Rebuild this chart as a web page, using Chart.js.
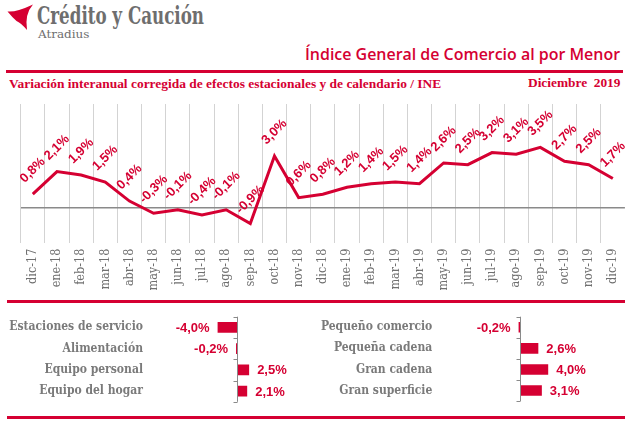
<!DOCTYPE html>
<html>
<head>
<meta charset="utf-8">
<script src="https://cdn.jsdelivr.net/npm/chart.js@4.4.1/dist/chart.umd.min.js"></script>
<style>
  body { margin: 0; width: 634px; height: 424px; background: #fff; position: relative; overflow: hidden; }
  .abs { position: absolute; white-space: nowrap; }
  .rule { position: absolute; background: #d50032; height: 3px; }
  canvas { position: absolute; }
</style>
</head>
<body>
<svg class="abs" style="left:0;top:0" width="40" height="34">
  <path d="M7.5,11.5 Q16,12.5 33,4.5 Q24.5,14 27,30 Q20.5,22.5 16.5,21 Q12,17 7.5,11.5 Z" fill="#d50032"/>
</svg>
<div class="abs" id="brand" data-w="167" style="left:37px;top:1px;font:bold 24px 'DejaVu Serif Condensed','DejaVu Serif';color:#6e6e6e">Crédito y Caución</div>
<div class="abs" id="brand2" data-w="52" style="left:38px;top:28px;font:11px 'DejaVu Serif Condensed','DejaVu Serif';color:#6e6e6e">Atradius</div>
<div class="abs" id="title" data-w="315" data-right="1" style="right:14px;top:42px;font:600 17px 'Open Sans';color:#d50032">Índice General de Comercio al por Menor</div>
<div class="rule" style="left:6px;top:69.5px;width:617px"></div>
<div class="abs" id="sub" data-w="432" style="left:9px;top:76px;font:bold 13.5px 'Liberation Serif';color:#d50032">Variación interanual corregida de efectos estacionales y de calendario / INE</div>
<div class="abs" id="date" data-w="92" data-right="1" style="right:14px;top:75px;font:bold 13.5px 'Liberation Serif';color:#d50032">Diciembre&nbsp; 2019</div>
<div class="rule" style="left:7px;top:299.5px;width:618px"></div>
<div class="rule" style="left:7px;top:415.5px;width:618px"></div>

<canvas id="line" width="634" height="205" style="left:0;top:95px"></canvas>
<canvas id="barL" width="317" height="116" style="left:0;top:300px"></canvas>
<canvas id="barR" width="317" height="116" style="left:317px;top:300px"></canvas>

<script>
const months = ['dic-17','ene-18','feb-18','mar-18','abr-18','may-18','jun-18','jul-18','ago-18','sep-18','oct-18','nov-18','dic-18',
  'ene-19','feb-19','mar-19','abr-19','may-19','jun-19','jul-19','ago-19','sep-19','oct-19','nov-19','dic-19'];
const indice = [0.8, 2.1, 1.9, 1.5, 0.4, -0.3, -0.1, -0.4, -0.1, -0.9, 3.0, 0.6, 0.8,
  1.2, 1.4, 1.5, 1.4, 2.6, 2.5, 3.2, 3.1, 3.5, 2.7, 2.5, 1.7];

const productos = ['Estaciones de servicio', 'Alimentación', 'Equipo personal', 'Equipo del hogar'];
const productosVal = [-4.0, -0.2, 2.5, 2.1];
const formatos = ['Pequeño comercio', 'Pequeña cadena', 'Gran cadena', 'Gran superficie'];
const formatosVal = [-0.2, 2.6, 4.0, 3.1];

const RED = '#d50032';
const SLAB = "'DejaVu Serif Condensed', 'DejaVu Serif', serif";
const fmt = v => v.toFixed(1).replace('.', ',') + '%';

// fit header texts to the measured widths of the picture
document.querySelectorAll('[data-w]').forEach(el => {
  const k = +el.dataset.w / el.offsetWidth;
  el.style.transformOrigin = el.dataset.right ? 'right top' : 'left top';
  el.style.transform = 'scaleX(' + k + ')';
});

const lineLabels = {
  id: 'lineLabels',
  afterDatasetsDraw(chart) {
    const ctx = chart.ctx;
    const meta = chart.getDatasetMeta(0);
    ctx.save();
    ctx.fillStyle = RED;
    ctx.font = "bold 13px 'Liberation Sans'";
    ctx.textAlign = 'center';
    ctx.textBaseline = 'middle';
    meta.data.forEach((p, i) => {
      ctx.save();
      ctx.translate(p.x, p.y - 24);
      ctx.rotate(-Math.PI / 4);
      ctx.fillText(fmt(indice[i]), 0, 0);
      ctx.restore();
    });
    ctx.restore();
  }
};

new Chart(document.getElementById('line'), {
  type: 'line',
  data: {
    labels: months,
    datasets: [{ data: indice, borderColor: RED, borderWidth: 3, pointRadius: 0, tension: 0, fill: false }]
  },
  options: {
    responsive: false,
    animation: false,
    layout: { padding: { left: 20.7, right: 8.3, top: 9, bottom: 0 } },
    plugins: { legend: { display: false }, tooltip: { enabled: false } },
    scales: {
      x: {
        offset: true,
        grid: {
          offset: true,
          drawTicks: false,
          color: c => c.type === 'tick' ? '#d3d3d3' : 'rgba(0,0,0,0)',
          lineWidth: 1
        },
        border: { display: false },
        ticks: { minRotation: 90, maxRotation: 90, padding: 6, color: '#707070', font: { family: SLAB, size: 12.5 } },
        afterFit: s => { s.height = 57.3; }
      },
      y: {
        min: -2, max: 6,
        ticks: { display: false, stepSize: 1 },
        border: { display: false },
        grid: { drawTicks: false, color: c => c.tick && c.tick.value === 0 ? '#8a8a8a' : 'rgba(0,0,0,0)', lineWidth: 1.5 },
        afterFit: s => { s.width = 0; }
      }
    }
  },
  plugins: [lineLabels]
});

const barExtras = {
  id: 'barExtras',
  afterDatasetsDraw(chart) {
    const ctx = chart.ctx;
    const x = chart.scales.x;
    const a = chart.chartArea;
    const x0 = Math.round(x.getPixelForValue(0)) + 0.5;
    ctx.save();
    ctx.strokeStyle = '#8a8a8a';
    ctx.lineWidth = 1;
    ctx.beginPath();
    ctx.moveTo(x0, a.top);
    ctx.lineTo(x0, a.bottom);
    const n = chart.data.labels.length;
    for (let i = 0; i <= n; i++) {
      const yy = Math.round(a.top + (a.bottom - a.top) * i / n) + 0.5;
      ctx.moveTo(x0 - 4, yy);
      ctx.lineTo(x0, yy);
    }
    ctx.stroke();
    const vals = chart.data.datasets[0].data;
    ctx.fillStyle = RED;
    ctx.font = "bold 13px 'Liberation Sans'";
    ctx.textBaseline = 'middle';
    chart.getDatasetMeta(0).data.forEach((b, i) => {
      const v = vals[i];
      ctx.textAlign = v < 0 ? 'right' : 'left';
      ctx.fillText(fmt(v), b.x + (v < 0 ? -8 : 8), b.y + 1);
    });
    ctx.restore();
  }
};

function barChart(id, labels, values, areaLeft, zero, areaRight, ppu, labelPad) {
  new Chart(document.getElementById(id), {
    type: 'bar',
    data: { labels: labels, datasets: [{ data: values, backgroundColor: RED, categoryPercentage: 1, barPercentage: 0.5 }] },
    options: {
      indexAxis: 'y',
      responsive: false,
      animation: false,
      layout: { padding: { left: 0, right: 317 - areaRight, top: 16.7, bottom: 7.7 } },
      plugins: { legend: { display: false }, tooltip: { enabled: false } },
      scales: {
        x: { display: false, min: (areaLeft - zero) / ppu, max: (areaRight - zero) / ppu },
        y: {
          grid: { display: false, drawTicks: false },
          border: { display: false },
          ticks: { padding: labelPad, color: '#7a7a7a', font: { family: SLAB, size: 12, weight: 'bold' } },
          afterFit: s => { s.width = areaLeft; }
        }
      }
    },
    plugins: [barExtras]
  });
}

barChart('barL', productos, productosVal, 150, 237, 310, 4.85, 7);
barChart('barR', formatos, formatosVal, 123, 203, 303, 7.05, 7.7);
</script>
</body>
</html>
